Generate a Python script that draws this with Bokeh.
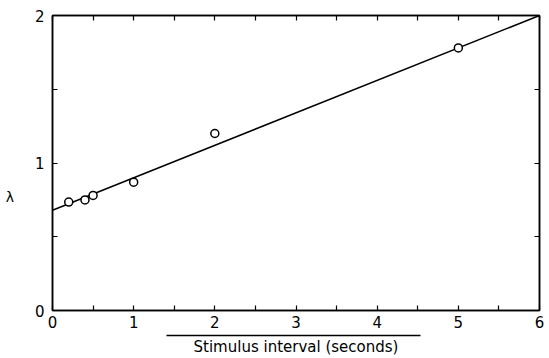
from bokeh.plotting import figure
from bokeh.models import LinearAxis, FixedTicker, Range1d
from bokeh.embed import file_html
from bokeh.resources import INLINE

# Data
interval_s = [0.2, 0.4, 0.5, 1.0, 2.0, 5.0]
lam = [0.735, 0.75, 0.78, 0.87, 1.20, 1.78]
fit_x = [0.0, 6.0]
fit_y = [0.68, 2.0]

x_major = [0, 1, 2, 3, 4, 5, 6]
x_minor = [0.5, 1.5, 2.5, 3.5, 4.5, 5.5]
y_major = [0, 1, 2]
y_minor = [0.5, 1.5]

FONT = "DejaVu Sans"

p = figure(width=549, height=358, output_backend="svg", toolbar_location=None,
           x_range=Range1d(0, 6), y_range=Range1d(0, 2),
           min_border_left=52, min_border_right=10, min_border_top=15,
           x_axis_location=None, y_axis_location=None)
p.background_fill_color = "white"
p.border_fill_color = "white"
p.outline_line_color = "black"
p.outline_line_width = 1.5
p.xgrid.visible = False
p.ygrid.visible = False

def style(ax, labels=True):
    ax.major_tick_in = 5
    ax.major_tick_out = 0
    ax.minor_tick_in = 5
    ax.minor_tick_out = 0
    ax.major_tick_line_color = "black"
    ax.minor_tick_line_color = "black"
    ax.major_tick_line_width = 1.2
    ax.minor_tick_line_width = 1.2
    ax.axis_line_color = "black"
    ax.axis_line_width = 1.5
    ax.major_label_text_font = FONT
    ax.major_label_text_font_size = "15px"
    ax.major_label_text_color = "black"
    if not labels:
        ax.major_label_text_font_size = "0px"
        ax.major_label_text_color = None

xb = LinearAxis(ticker=FixedTicker(ticks=x_major, minor_ticks=x_minor))
style(xb)
xb.major_label_standoff = 5
xb.axis_label = " "
xb.axis_label_text_font_size = "2px"
xb.axis_label_standoff = 0
p.add_layout(xb, "below")

xt = LinearAxis(ticker=FixedTicker(ticks=x_major, minor_ticks=x_minor))
style(xt, labels=False)
p.add_layout(xt, "above")

yl = LinearAxis(ticker=FixedTicker(ticks=y_major, minor_ticks=y_minor))
style(yl)
yl.major_label_standoff = 8
yl.axis_label = "\n\n\nλ"
yl.axis_label_text_font = FONT
yl.axis_label_text_font_style = "normal"
yl.axis_label_text_font_size = "14px"
yl.axis_label_text_line_height = 1.4
yl.axis_label_text_color = "black"
yl.axis_label_standoff = 18
if "axis_label_orientation" in yl.properties():
    yl.axis_label_orientation = "horizontal"
p.add_layout(yl, "left")

yr = LinearAxis(ticker=FixedTicker(ticks=y_major, minor_ticks=y_minor))
style(yr, labels=False)
p.add_layout(yr, "right")

# axis title with an overline drawn as a bounded axis line
xtitle = LinearAxis(ticker=FixedTicker(ticks=[]), bounds=(1.41, 4.53))
xtitle.axis_line_color = "black"
xtitle.axis_line_width = 1.5
xtitle.major_tick_line_color = None
xtitle.minor_tick_line_color = None
xtitle.major_label_text_font_size = "0px"
xtitle.axis_label = "Stimulus interval (seconds)"
xtitle.axis_label_text_font = FONT
xtitle.axis_label_text_font_style = "normal"
xtitle.axis_label_text_font_size = "15px"
xtitle.axis_label_text_color = "black"
xtitle.axis_label_standoff = 2
p.add_layout(xtitle, "below")

p.line(fit_x, fit_y, line_color="black", line_width=1.5)
p.scatter(interval_s, lam, size=8, marker="circle", fill_color="white",
          line_color="black", line_width=1.5)

open("out.html", "w").write(file_html(p, INLINE))
